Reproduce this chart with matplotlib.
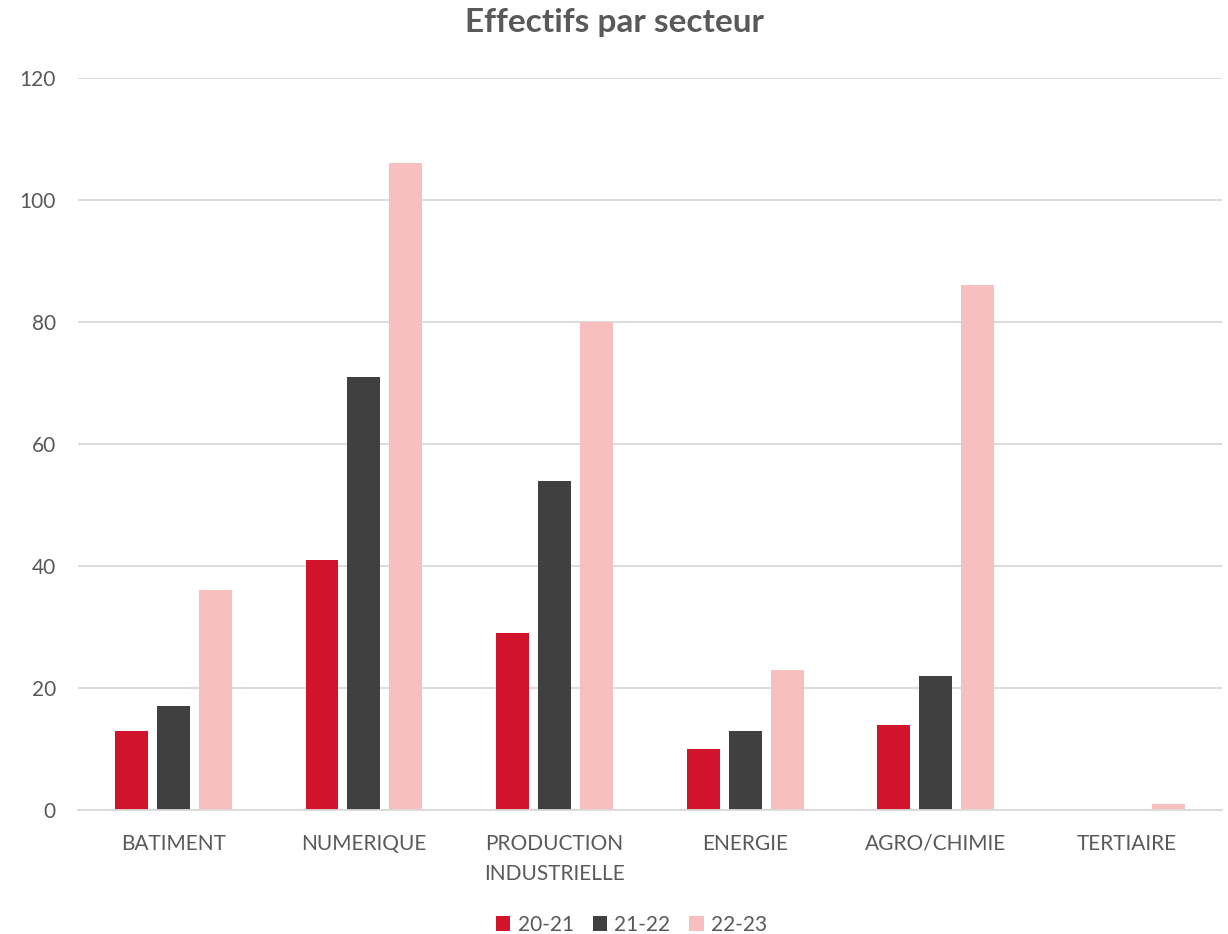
import numpy as np
import matplotlib.pyplot as plt

plt.rcParams['font.family'] = ['Lato', 'DejaVu Sans']

# Effectifs par secteur et par année
sectors = ['BATIMENT', 'NUMERIQUE', 'PRODUCTION\nINDUSTRIELLE', 'ENERGIE', 'AGRO/CHIMIE', 'TERTIAIRE']
years = ['20-21', '21-22', '22-23']
v_20_21 = [13, 41, 29, 10, 14, 0]
v_21_22 = [17, 71, 54, 13, 22, 0]
v_22_23 = [36, 106, 80, 23, 86, 1]

colors = ['#CF142B', '#404040', '#F8BFBF']
text_col = '#595959'

fig = plt.figure(figsize=(12.28, 9.34), dpi=100)
ax = fig.add_axes([0.0635, 0.1328, 0.9315, 0.7837])

x = np.arange(len(sectors))
width = 0.173
offset = 0.22
for i, vals in enumerate([v_20_21, v_21_22, v_22_23]):
    ax.bar(x + (i - 1) * offset, vals, width, color=colors[i], label=years[i], zorder=3)

ax.set_xlim(-0.5, len(sectors) - 0.5)
ax.set_ylim(0, 120)
ax.set_yticks(np.arange(0, 121, 20))
ax.set_xticks(x)
ax.set_xticklabels(sectors, fontsize=15, color=text_col, linespacing=1.65)
ax.tick_params(axis='y', labelsize=15, labelcolor=text_col, length=0, pad=16)
ax.tick_params(axis='x', length=0, pad=17)

ax.grid(axis='y', color='#D9D9D9', linewidth=1.3, zorder=0)
for s in ['top', 'right', 'left']:
    ax.spines[s].set_visible(False)
ax.spines['bottom'].set_color('#D9D9D9')
ax.spines['bottom'].set_linewidth(1.3)
ax.spines['bottom'].set_zorder(4)

fig.text(0.5, 0.976, 'Effectifs par secteur', ha='center', va='center',
         fontsize=24, fontweight='bold', color=text_col)

ax.legend(loc='center', bbox_to_anchor=(0.484, -0.157), ncol=3, frameon=False,
          fontsize=15, labelcolor=text_col, handlelength=0.7, handleheight=0.7,
          handletextpad=0.35, columnspacing=0.9)

fig.savefig('out.png', dpi=100)
